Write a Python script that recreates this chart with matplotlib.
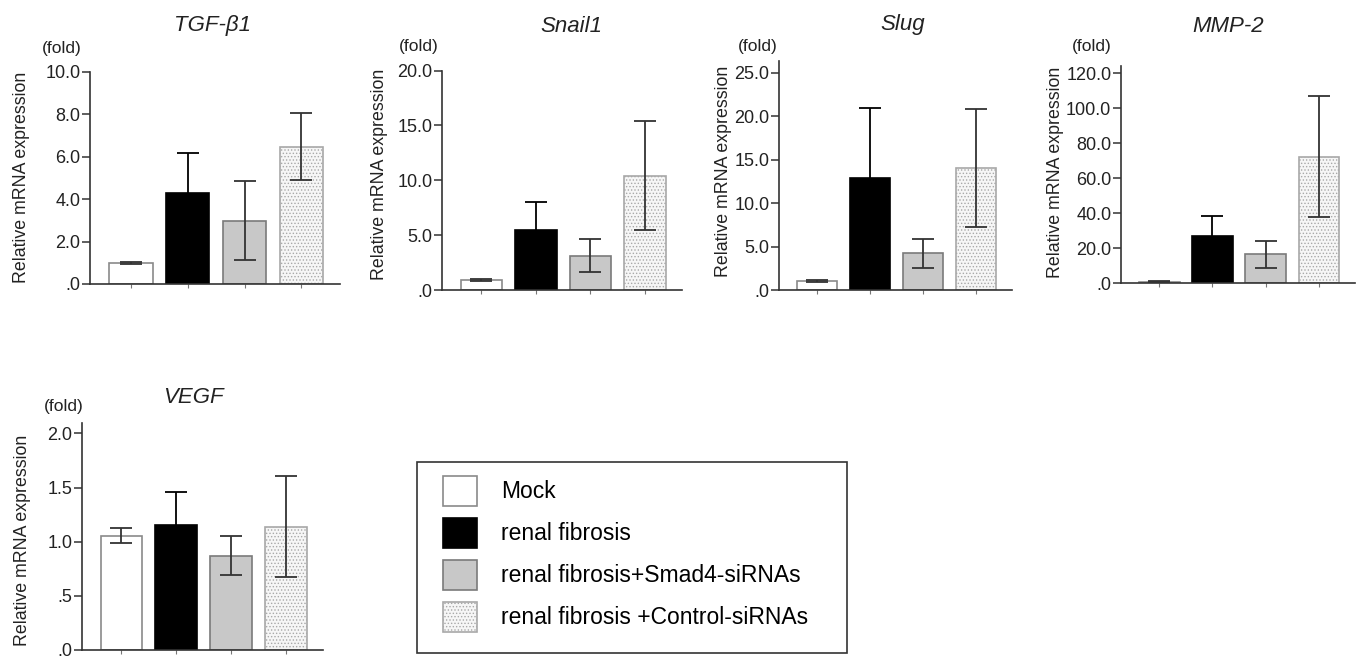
import matplotlib
matplotlib.use("Agg")
import matplotlib.pyplot as plt
from matplotlib.ticker import FuncFormatter, MultipleLocator
from matplotlib.patches import Rectangle

plt.rcParams['font.family'] = ['Liberation Sans', 'DejaVu Sans']
plt.rcParams['hatch.linewidth'] = 0.6

# ---------------- data ----------------
groups = ["Mock", "renal fibrosis", "renal fibrosis+Smad4-siRNAs",
          "renal fibrosis +Control-siRNAs"]
genes = ["TGF-β1", "Snail1", "Slug", "MMP-2", "VEGF"]

tgf_mean = [1.0, 4.28, 2.99, 6.48]
tgf_err = [0.05, 1.88, 1.85, 1.57]
snail_mean = [0.91, 5.47, 3.13, 10.42]
snail_err = [0.10, 2.58, 1.48, 4.97]
slug_mean = [1.04, 12.85, 4.22, 14.07]
slug_err = [0.10, 8.15, 1.64, 6.80]
mmp_mean = [1.0, 27.2, 16.6, 72.4]
mmp_err = [0.5, 11.3, 7.8, 34.4]
vegf_mean = [1.055, 1.157, 0.87, 1.14]
vegf_err = [0.07, 0.30, 0.18, 0.47]

ylabel = "Relative mRNA expression"
fold_label = "(fold)"

means = [tgf_mean, snail_mean, slug_mean, mmp_mean, vegf_mean]
errs = [tgf_err, snail_err, slug_err, mmp_err, vegf_err]
tick_steps = [2.0, 5.0, 5.0, 20.0, 0.5]
ytops = [10.0, 20.0, 26.3, 124.0, 2.1]

# ---------------- layout (pixels) ----------------
W, H = 1363, 660
fig = plt.figure(figsize=(W / 100, H / 100), dpi=100)

# left, right, bottom(px of zero), px per unit
panels_px = [
    (90, 340, 284.0, 21.2),
    (442, 682, 290.0, 10.97),
    (779, 1012, 290.0, 8.69),
    (1121, 1355, 283.3, 1.75),
    (82, 323, 650.0, 108.33),
]
title_pos = [(212, 31), (571, 32), (903, 30), (1228, 32), (193, 403)]
fold_pos = [(62, 48), (419, 47), (758, 47), (1092, 47), (64, 407)]
ylab_pos = [(22, 177), (380, 174), (723, 171), (1055, 172), (23, 540)]

faces = ['white', 'black', '#c8c8c8', '#f6f6f6']
edges = ['#8a8a8a', 'black', '#7a7a7a', '#a8a8a8']
ecolors = ['#333333', 'black', '#333333', '#333333']
hatches = [None, None, None, '.....']


def fmt(v, pos):
    s = f"{v:.1f}"
    if s.startswith("0"):
        s = s[1:]
    return s


x = [0, 1, 2, 3]
axes = []
for k in range(5):
    l, r, b, s = panels_px[k]
    top = b - ytops[k] * s
    ax = fig.add_axes([l / W, (H - b) / H, (r - l) / W, (b - top) / H])
    axes.append(ax)
    for i in range(4):
        ax.bar(x[i], means[k][i], width=0.76, color=faces[i],
               edgecolor=edges[i], linewidth=1.2, hatch=hatches[i],
               yerr=errs[k][i], ecolor=ecolors[i], capsize=8,
               error_kw=dict(elinewidth=1.3, capthick=1.3),
               label=groups[i], zorder=2)
    ax.set_xlim(-0.72, 3.68)
    ax.set_ylim(0, ytops[k])
    ax.yaxis.set_major_locator(MultipleLocator(tick_steps[k]))
    ax.yaxis.set_major_formatter(FuncFormatter(fmt))
    ax.set_xticks(x)
    ax.set_xticklabels([])
    for sp in ['top', 'right']:
        ax.spines[sp].set_visible(False)
    for sp in ['left', 'bottom']:
        ax.spines[sp].set_color('#333333')
        ax.spines[sp].set_linewidth(1.2)
    ax.tick_params(axis='y', length=6, width=1.1, color='#333333',
                   labelsize=13, pad=1, labelcolor='#222222')
    ax.tick_params(axis='x', length=3, width=0.8, color='#777777')
    ax.set_ylabel(ylabel, fontsize=12.8, color='#222222')
    ax.yaxis.label.set_va('center')
    lx, ly = ylab_pos[k]
    ax.yaxis.set_label_coords((lx - l) / (r - l), (b - ly) / (b - top))
    tx, ty = title_pos[k]
    fig.text(tx / W, 1 - ty / H, genes[k], fontsize=16, style='italic',
             ha='center', va='baseline', color='#222222')
    fx, fy = fold_pos[k]
    fig.text(fx / W, 1 - fy / H, fold_label, fontsize=12.5,
             ha='center', va='center', color='#222222')

# ---------------- legend ----------------
fs = 16.5
fs_px = fs * 100 / 72
hh = (30 / fs_px - 0.245) / 0.65
handles, labels = axes[4].get_legend_handles_labels()
fig.legend(handles, labels, loc='upper left',
           bbox_to_anchor=(443 / W, 1 - 476 / H), frameon=False,
           borderpad=0, borderaxespad=0, fontsize=fs,
           handlelength=34 / fs_px, handleheight=hh,
           labelspacing=12 / fs_px, handletextpad=24 / fs_px)
frame = Rectangle((417 / W, 1 - 653 / H), (847 - 417) / W, (653 - 462) / H,
                  transform=fig.transFigure, fill=False,
                  edgecolor='#333333', linewidth=1.2)
fig.add_artist(frame)

fig.savefig("out.png", dpi=100)
